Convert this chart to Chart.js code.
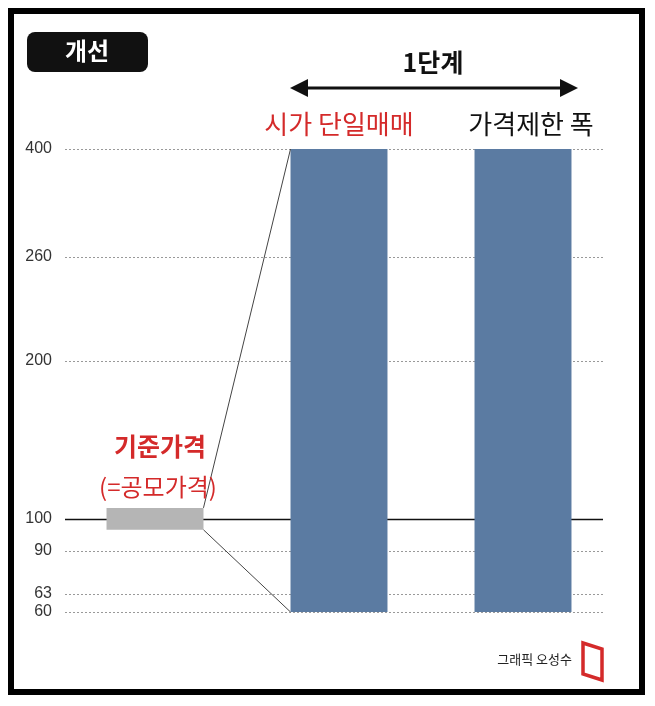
<!DOCTYPE html>
<html><head><meta charset="utf-8">
<script src="https://cdn.jsdelivr.net/npm/chart.js@4"></script>
<style>html,body{margin:0;padding:0;background:#fff}#w{width:655px;height:706px}</style>
</head><body><div id="w"><canvas id="c"></canvas></div>
<script>
const categories = ['기준가격', '시가 단일매매', '가격제한 폭'];
const barLow = [96.6, 60, 60];
const barHigh = [107, 400, 400];
const tickValues = [60, 63, 90, 100, 200, 260, 400];
const tickLabels = ['60', '63', '90', '100', '200', '260', '400'];
// relative vertical position of each tick (0 = bottom, 1 = top), as drawn in the picture
const tickFractions = [0, 0.039, 0.132, 0.201, 0.542, 0.767, 1];

class PiecewiseScale extends Chart.LinearScale {
  static id = 'piecewise';
  static defaults = Chart.LinearScale.defaults;
  _frac(v){
    const t=tickValues,f=tickFractions;
    if(v<=t[0]) return f[0]+(v-t[0])*(f[1]-f[0])/(t[1]-t[0]);
    for(let i=0;i<t.length-1;i++) if(v<=t[i+1]) return f[i]+(v-t[i])*(f[i+1]-f[i])/(t[i+1]-t[i]);
    const n=t.length-1; return f[n]+(v-t[n])*(f[n]-f[n-1])/(t[n]-t[n-1]);
  }
  getPixelForValue(v){ return this.bottom-this._frac(v)*(this.bottom-this.top); }
  getValueForPixel(p){
    const fr=(this.bottom-p)/(this.bottom-this.top),t=tickValues,f=tickFractions;
    for(let i=0;i<t.length-1;i++) if(fr<=f[i+1]) return t[i]+(fr-f[i])*(t[i+1]-t[i])/(f[i+1]-f[i]);
    return t[t.length-1];
  }
}
Chart.register(PiecewiseScale);

const deco = {
  id:'deco',
  beforeDatasetsDraw(ch){
    const c=ch.ctx,y=ch.scales.y;
    c.save();
    tickValues.forEach(v=>{
      const py=Math.round(y.getPixelForValue(v))+0.5;
      c.beginPath();
      if(v===100){c.setLineDash([]);c.strokeStyle='#111';c.lineWidth=1.6;}
      else{c.setLineDash([2,2]);c.strokeStyle='#999';c.lineWidth=1;}
      c.moveTo(65,py);c.lineTo(603,py);c.stroke();
    });
    c.restore();
  },
  afterDatasetsDraw(ch){
    const c=ch.ctx,y=ch.scales.y;
    const m0=ch.getDatasetMeta(0).data[0], m1=ch.getDatasetMeta(0).data[1];
    c.save();
    c.strokeStyle='#444';c.lineWidth=1;
    c.beginPath();
    c.moveTo(m0.x+m0.width/2,m0.y);c.lineTo(m1.x-m1.width/2,m1.y);
    c.moveTo(m0.x+m0.width/2,m0.base);c.lineTo(m1.x-m1.width/2,m1.base);
    c.stroke();
    // frame
    c.strokeStyle='#000';c.lineWidth=6;c.strokeRect(11,11,631,681);
    // title box
    c.fillStyle='#111';
    c.beginPath();c.roundRect(27,32,121,40,8);c.fill();
    c.fillStyle='#fff';c.font='bold 24px "Noto Sans CJK KR"';c.textAlign='center';c.textBaseline='middle';
    c.fillText('개선',87,51);
    // 1단계 arrow
    c.fillStyle='#111';c.font='bold 25px "Noto Sans CJK KR"';
    c.fillText('1단계',433,62);
    c.strokeStyle='#111';c.lineWidth=3;
    c.beginPath();c.moveTo(300,88);c.lineTo(568,88);c.stroke();
    c.beginPath();c.moveTo(290,88);c.lineTo(308,79);c.lineTo(308,97);c.closePath();c.fill();
    c.beginPath();c.moveTo(578,88);c.lineTo(560,79);c.lineTo(560,97);c.closePath();c.fill();
    // category labels
    c.font='26px "Noto Sans CJK KR"';
    c.fillStyle='#d42a2a';c.fillText(categories[1],m1.x,124);
    c.fillStyle='#111';c.fillText(categories[2],ch.getDatasetMeta(0).data[2].x+8,124);
    c.fillStyle='#d42a2a';c.font='bold 25px "Noto Sans CJK KR"';
    c.fillText(categories[0],m0.x+5,446);
    c.font='24px "Noto Sans CJK KR"';c.fillText('(=공모가격)',m0.x+3,487);
    // credit
    c.fillStyle='#222';c.font='13px "Noto Sans CJK KR"';c.textAlign='right';
    c.fillText('그래픽 오성수',572,659);
    c.strokeStyle='#d42a2a';c.lineWidth=3.5;
    c.beginPath();c.moveTo(583,643);c.lineTo(602,649);c.lineTo(602,680);c.lineTo(583,674);c.closePath();c.stroke();
    c.restore();
  }
};

new Chart(document.getElementById('c'),{
  type:'bar',
  data:{labels:categories,datasets:[{
    data:categories.map((_,i)=>[barLow[i],barHigh[i]]),
    backgroundColor:['#b5b5b5','#5b7ba2','#5b7ba2'],
    barPercentage:1,categoryPercentage:0.527,borderSkipped:false
  }]},
  options:{
    responsive:true,maintainAspectRatio:false,animation:false,
    layout:{padding:{top:149,bottom:94,left:0,right:40}},
    plugins:{legend:{display:false},tooltip:{enabled:false}},
    scales:{
      x:{display:false},
      y:{type:'piecewise',min:60,max:400,
        afterBuildTicks:s=>{s.ticks=tickValues.map(v=>({value:v}));},
        afterFit:s=>{s.width=63;},
        grid:{display:false},border:{display:false},
        ticks:{callback:(v)=>tickLabels[tickValues.indexOf(v)],color:'#333',
          font:{family:'"Liberation Sans Narrow", "Liberation Sans"',size:16},padding:3}
      }
    }
  },
  plugins:[deco]
});
</script></body></html>
